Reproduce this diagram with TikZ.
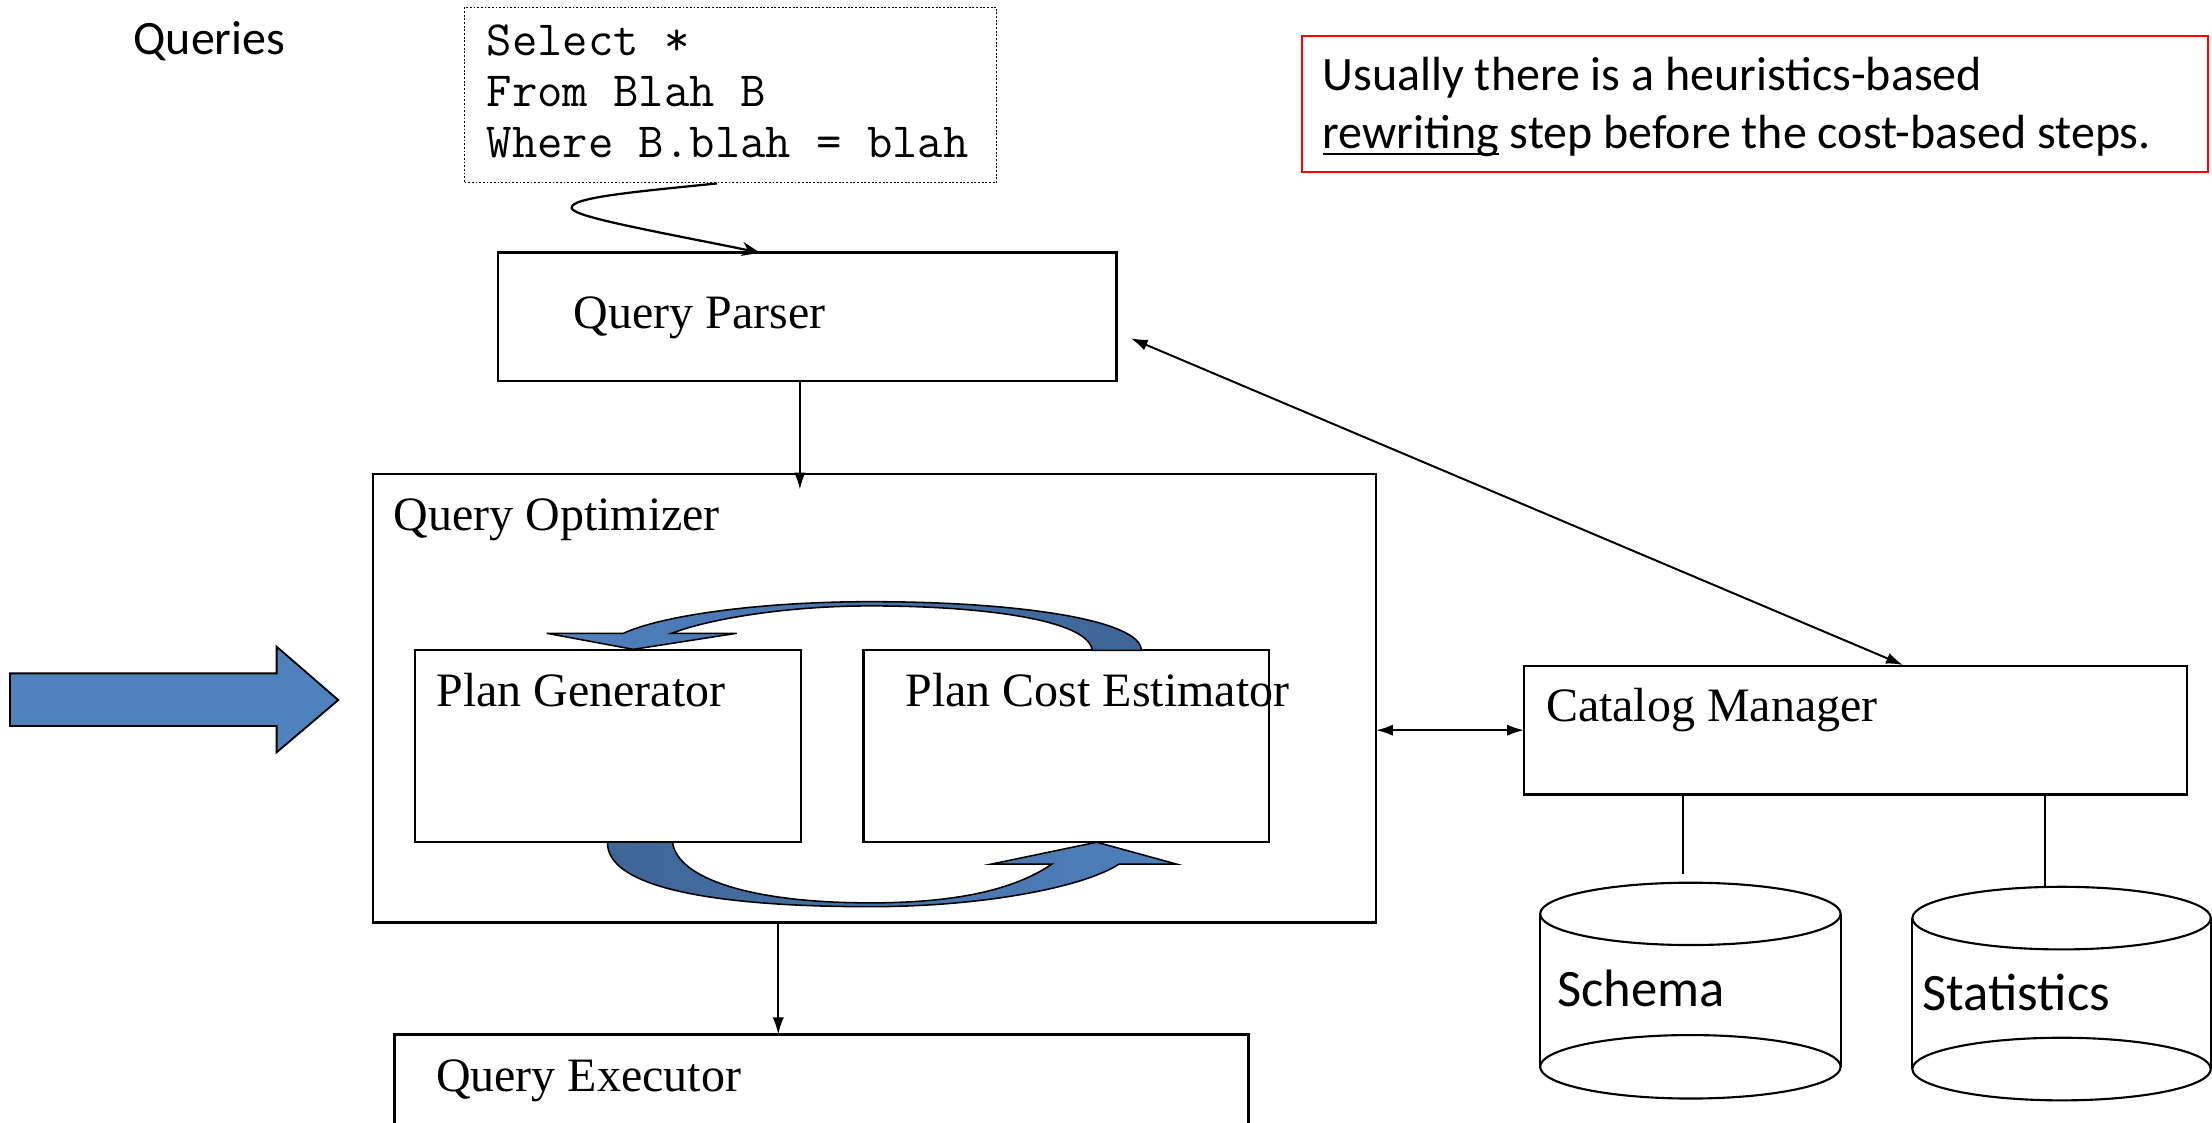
\documentclass[tikz,border=0pt]{standalone}
\usepackage{fontspec}
\setmainfont{Liberation Serif}
\newfontfamily\carlito{Carlito}
\usetikzlibrary{arrows.meta,calc}

\definecolor{arrowblue}{HTML}{4F81BD}
\definecolor{arrowdark}{HTML}{3E6596}

% underline drawn as a plain rule a little below the baseline
\newcommand\ulword[1]{\setbox0\hbox{#1}\rlap{\rule[-5pt]{\wd0}{2pt}}\box0\relax}

\tikzset{
  box/.style={draw, line width=1.7pt, rectangle, outer sep=0pt, inner sep=0pt, anchor=north west},
  sqlbox/.style={box, line width=1.1pt, dash pattern=on 1.3pt off 1.3pt},
  notebox/.style={box, draw=red, line width=1.7pt},
  serif/.style={anchor=base west, inner sep=0pt, font=\fontsize{34}{40}\selectfont},
  sans/.style={anchor=base west, inner sep=0pt, font=\carlito\fontsize{34}{40}\selectfont},
  dbtext/.style={anchor=base west, inner sep=0pt, font=\carlito\fontsize{37.3}{44}\selectfont},
  code/.style={anchor=base west, inner sep=0pt, font=\ttfamily\fontsize{34.9}{40}\selectfont},
  conn/.style={line width=1.4pt, -{Latex[length=12pt,width=8pt]}},
  bentconn/.style={line width=1.6pt, -{Stealth[length=13pt,width=10pt]}},
  dconn/.style={line width=1.4pt, {Latex[length=12pt,width=8pt]}-{Latex[length=12pt,width=8pt]}},
  loop/.style={draw=black, line width=1.1pt},
  drum/.style={line width=1.5pt},
}

\begin{document}
\begin{tikzpicture}[x=1pt, y=-1pt]
  \useasboundingbox (0,0) rectangle (1568,796);
  \fill[white] (0,0) rectangle (1568,796);
  \clip (0,0) rectangle (1568,796);

  % ---- labels and the sample query ----
  \node[sans] (queries) at (94.5,38.5) {Queries};
  \node[sqlbox, minimum width=377.2pt, minimum height=124.3pt] (sql) at (329.3,5.2) {};
  \node[code] (sql1) at (344.9,39.0) {Select *};
  \node[code] (sql2) at (344.9,75.3) {From Blah B};
  \node[code] (sql3) at (344.9,111.5) {Where B.blah = blah};

  % ---- note ----
  \node[notebox, minimum width=642.5pt, minimum height=96.4pt] (note) at (922.8,25.5) {};
  \node[sans] (note1) at (937.4,64.3) {Usually there is a heuristics-based};
  \node[sans] (note2) at (937.4,105.1) {\ulword{rewriting} step before the cost-based steps.};

  % ---- components ----
  \node[box, minimum width=438.6pt, minimum height=90.8pt] (parser) at (352.9,179.1) {};
  \node[serif] (parserlbl) at (406.4,232.7) {Query Parser};

  \node[box, minimum width=710.8pt, minimum height=317.8pt] (opt) at (264.6,336.0) {};
  \node[serif] (optlbl) at (278.8,376.2) {Query Optimizer};

  \node[box, minimum width=273.4pt, minimum height=136.2pt] (gen) at (294.2,460.8) {};
  \node[serif] (genlbl) at (309.1,500.9) {Plan Generator};

  \node[box, minimum width=287.5pt, minimum height=136.2pt] (est) at (612.2,460.8) {};
  \node[serif] (estlbl) at (641.7,500.9) {Plan Cost Estimator};

  \node[box, minimum width=605.3pt, minimum height=120pt] (exec) at (279.6,733.2) {};
  \node[serif] (execlbl) at (308.9,773.9) {Query Executor};

  \node[box, minimum width=469.9pt, minimum height=91pt] (catalog) at (1080.3,472.1) {};
  \node[serif] (cataloglbl) at (1095.7,511.6) {Catalog Manager};

  % ---- storage drums ----
  \draw[drum] (1198.25,647.8) ellipse [x radius=106.5pt, y radius=22.1pt];
  \draw[drum] (1198.25,756.2) ellipse [x radius=106.5pt, y radius=22.5pt];
  \draw[drum] (1091.75,647.8) -- (1091.75,756.2);
  \draw[drum] (1304.75,647.8) -- (1304.75,756.2);
  \node[dbtext] (schema) at (1103.6,713.6) {Schema};

  \draw[drum] (1461.35,650.8) ellipse [x radius=105.75pt, y radius=22.2pt];
  \draw[drum] (1461.35,757.8) ellipse [x radius=105.75pt, y radius=22.2pt];
  \draw[drum] (1355.6,650.8) -- (1355.6,757.8);
  \draw[drum] (1567.1,650.8) -- (1567.1,757.8);
  \node[dbtext] (stats) at (1362.7,716.0) {Statistics};

  \coordinate (schtop) at (1192.8,619.8);
  \coordinate (stattop) at (1449.6,628.5);
  \draw[line width=1.3pt] (catalog.south -| schtop) -- (schtop);
  \draw[line width=1.3pt] (catalog.south -| stattop) -- (stattop);

  % ---- connectors ----
  \draw[bentconn] ($(sql.south)+(-9.6,0.5)$) .. controls (450,136) and (403,140) .. (405.3,147.7)
        .. controls (407,154) and (470,165) .. ($(parser.north)+(-33.4,0)$);
  \draw[conn] ($(parser.south)+(-5.2,0)$) -- ($(parser.south |- opt.north)+(-5.2,11)$);
  \draw[conn] ($(opt.south)+(-68.3,0)$) -- ($(exec.north)+(-30.55,0)$);
  \draw[dconn] ($(parser.east)+(10,15.3)$) -- ($(catalog.north)+(33.75,-0.7)$);
  \draw[dconn] (catalog.west -| opt.east) -- (catalog.west);

  % ---- incoming block arrow ----
  \path[draw=black, line width=1.3pt, fill=arrowblue]
    (7.1,477.3) -- (196.1,477.3) -- (196.1,458.4) -- (239.8,496.2)
    -- (196.1,533.3) -- (196.1,514.6) -- (7.1,514.6) -- cycle;

  % ---- generator / estimator loop ----
  \path[loop, left color=arrowblue, right color=arrowdark]
    (809,461) .. controls (809,440) and (725,426.5) .. (617,426.5)
    .. controls (540,426.5) and (470,436) .. (441.9,448.9)
    -- (387.5,448.9) -- (449,460.3) -- (522.2,448.9) -- (476.1,448.9)
    .. controls (505,438) and (560,429.5) .. (617,429.5)
    .. controls (700,429.5) and (772,440) .. (774.2,461) -- cycle;

  \path[loop, left color=arrowdark, right color=arrowblue]
    (430.6,597) .. controls (430,630) and (510,642.7) .. (617,642.7)
    .. controls (700,642.7) and (770,628) .. (793.2,612.5)
    -- (833.9,612.5) -- (777.4,597) -- (702.8,612.5) -- (745.7,612.5)
    .. controls (720,630) and (680,640) .. (617,640)
    .. controls (530,640) and (480,622) .. (476.7,597) -- cycle;
\end{tikzpicture}
\end{document}
